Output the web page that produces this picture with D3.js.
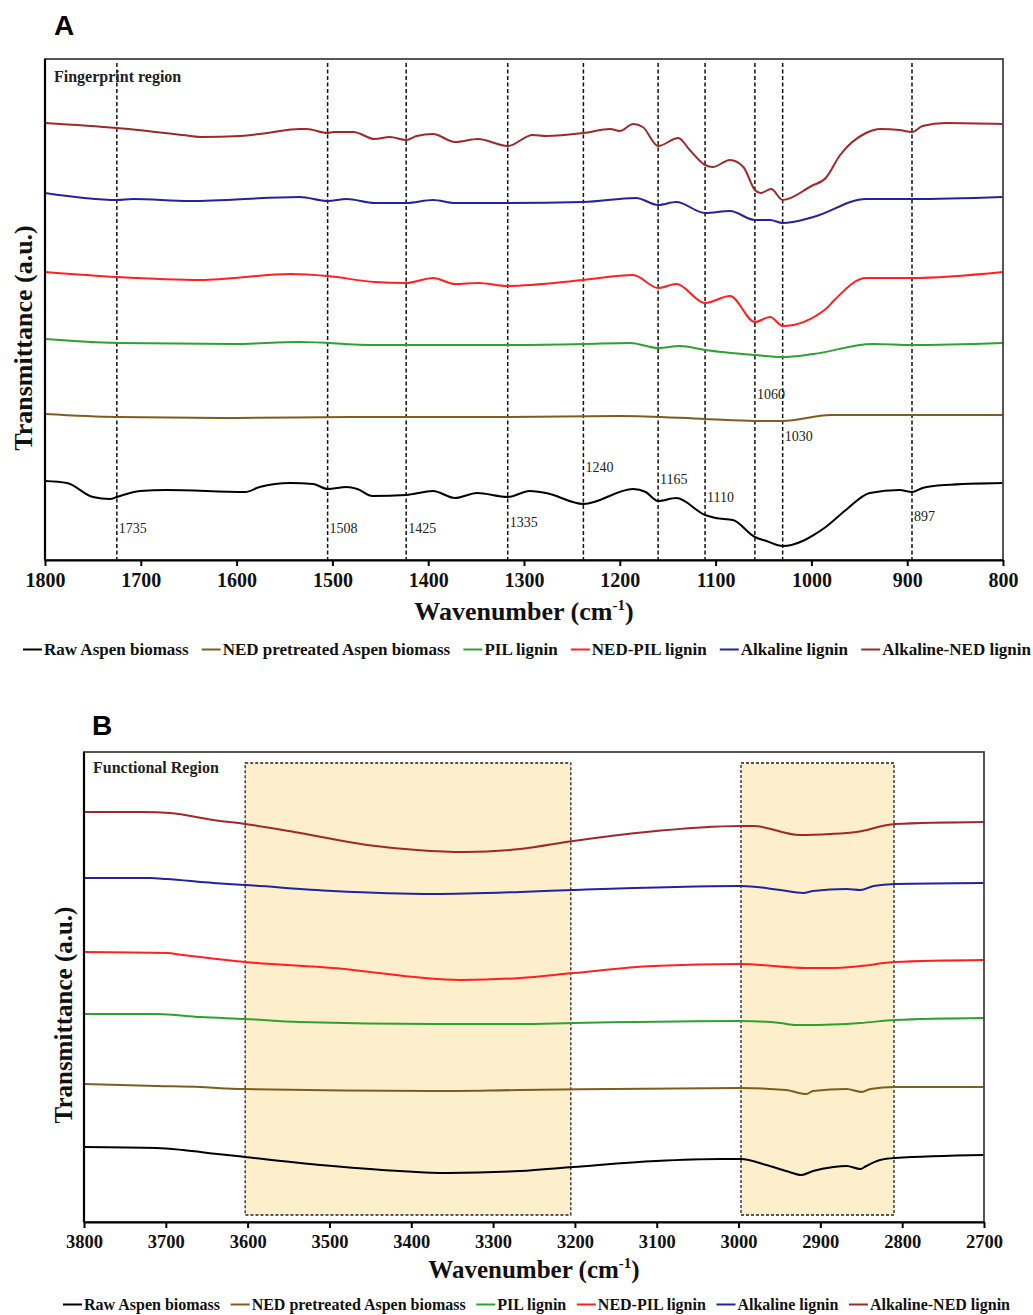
<!DOCTYPE html>
<html>
<head>
<meta charset="utf-8">
<script src="https://cdn.jsdelivr.net/npm/d3@7"></script>
<style>
  body { margin: 0; background: #fff; }
  svg text { font-family: "Liberation Serif", "Times New Roman", serif; }
</style>
</head>
<body>
<div id="chart"></div>
<script>

// legend names and colours
var seriesNames = ['Raw Aspen biomass', 'NED pretreated Aspen biomass', 'PIL lignin',
    'NED-PIL lignin', 'Alkaline lignin', 'Alkaline-NED lignin'];
var seriesColors = ['#000000', '#7d5e1f', '#2fa12f', '#ff2020', '#23239a', '#a0282a'];

// fingerprint region (1800-800 cm-1), [wavenumber, transmittance a.u.]
var fpRaw = [[1800,15.8],[1777,15.4],[1750,12.6],[1732,12.2],[1725,12.6],[1701,13.8],[1673,14.0],[1591,13.6],[1576,14.6],[1544,15.4],[1520,15.2],[1505,14.2],[1485,14.6],[1474,14.2],[1458,12.8],[1423,13.0],[1395,13.8],[1372,12.4],[1349,13.4],[1317,12.6],[1294,13.8],[1277,13.4],[1238,11.2],[1186,14.2],[1173,13.6],[1160,11.8],[1141,12.4],[1111,9.0],[1100,8.4],[1082,8.0],[1059,4.6],[1047,3.8],[1030,2.8],[985,6.6],[964,10.0],[939,13.4],[908,14.0],[895,13.6],[884,14.4],[860,15.0],[800,15.4]];
var fpNed = [[1800,29.2],[1725,28.6],[1600,28.4],[1480,28.6],[1317,28.6],[1200,28.8],[1111,28.2],[1059,27.8],[1030,27.8],[980,29.0],[800,29.0]];
var fpPil = [[1800,44.2],[1725,43.4],[1604,43.2],[1534,43.6],[1456,43.0],[1317,43.0],[1238,43.2],[1189,43.4],[1160,42.4],[1137,42.8],[1111,42.0],[1059,41.0],[1030,40.6],[998,41.2],[936,43.2],[895,43.0],[800,43.4]];
var fpNedPil = [[1800,57.6],[1725,56.6],[1638,56.0],[1544,57.2],[1505,56.8],[1456,55.6],[1423,55.4],[1395,56.4],[1372,55.2],[1348,55.4],[1317,54.8],[1238,56.0],[1186,57.0],[1160,54.4],[1141,55.2],[1111,51.4],[1085,52.8],[1059,47.6],[1043,48.6],[1030,46.8],[985,50.2],[976,52.0],[943,56.4],[895,56.4],[800,57.6]];
var fpAlk = [[1800,73.4],[1725,72.0],[1708,72.2],[1649,71.8],[1534,72.6],[1505,71.8],[1485,72.2],[1456,71.4],[1423,71.4],[1395,72.0],[1372,71.4],[1317,71.4],[1238,71.6],[1183,72.4],[1160,71.0],[1141,71.6],[1111,69.4],[1085,69.8],[1059,68.0],[1043,68.0],[1030,67.4],[998,68.6],[943,72.2],[895,72.2],[800,72.6]];
var fpAlkNed = [[1800,87.4],[1725,86.4],[1656,85.0],[1638,84.6],[1596,84.8],[1568,85.4],[1534,86.2],[1527,86.2],[1505,85.4],[1499,85.6],[1478,85.6],[1456,84.2],[1440,84.6],[1423,84.0],[1412,84.8],[1395,85.2],[1372,83.6],[1348,84.2],[1317,82.8],[1291,85.0],[1277,84.8],[1238,85.4],[1210,86.2],[1200,85.8],[1186,87.2],[1176,86.6],[1160,82.8],[1139,84.4],[1127,82.0],[1111,79.0],[1103,78.6],[1085,80.0],[1071,78.6],[1059,74.0],[1053,73.4],[1042,74.2],[1030,72.0],[1000,74.8],[985,76.4],[970,81.0],[943,85.4],[928,86.2],[908,86.0],[895,85.6],[884,86.8],[860,87.4],[800,87.2]];

// peak markers in fingerprint region
var peakLines = [1725, 1505, 1423, 1317, 1238, 1160, 1111, 1059, 1030, 895];
var peakLabels = ['1735', '1508', '1425', '1335', '1240', '1165', '1110', '1060', '1030', '897'];
var peakLabelLevels = [5.4, 5.4, 5.4, 6.6, 17.6, 15.2, 11.6, 32.2, 23.8, 7.8];

// functional region (3800-2700 cm-1)
var fnRaw = [[3800,15.0],[3711,14.8],[3679,14.4],[3637,13.6],[3603,13.0],[3496,11.2],[3414,10.2],[3356,9.8],[3267,10.2],[3202,11.0],[3101,12.2],[3022,12.6],[2997,12.6],[2966,11.4],[2942,10.2],[2923,9.4],[2909,10.2],[2884,11.0],[2868,11.2],[2851,10.6],[2844,11.2],[2827,12.4],[2809,12.8],[2700,13.4]];
var fnNed = [[3800,27.6],[3711,27.2],[3658,27.0],[3625,26.7],[3603,26.6],[3373,26.2],[3267,26.4],[2997,26.8],[2942,26.4],[2917,25.6],[2909,26.2],[2868,26.6],[2849,26.0],[2839,26.6],[2809,27.0],[2700,27.0]];
var fnPil = [[3800,41.6],[3711,41.6],[3658,41.0],[3603,40.6],[3536,40.0],[3373,39.6],[3267,39.6],[3202,39.8],[2997,40.2],[2949,39.8],[2929,39.4],[2917,39.4],[2851,39.8],[2809,40.4],[2700,40.8]];
var fnNedPil = [[3800,54.0],[3699,53.8],[3679,53.4],[3603,52.0],[3496,50.8],[3340,48.4],[3267,48.8],[3202,49.8],[3104,51.2],[2997,51.6],[2917,50.8],[2888,50.8],[2851,51.2],[2809,52.0],[2700,52.4]];
var fnAlk = [[3800,68.8],[3719,68.8],[3699,68.6],[3642,67.8],[3603,67.4],[3496,66.2],[3373,65.6],[3267,66.0],[3202,66.4],[2997,67.2],[2949,66.4],[2921,65.8],[2909,66.2],[2868,66.6],[2851,66.4],[2835,67.2],[2809,67.6],[2700,67.8]];
var fnAlkNed = [[3800,82.0],[3728,82.0],[3695,81.8],[3642,80.4],[3603,79.6],[3536,77.8],[3454,75.4],[3393,74.4],[3334,74.0],[3267,74.6],[3202,76.2],[3113,78.0],[2997,79.2],[2982,79.2],[2925,77.4],[2888,77.6],[2856,78.0],[2809,79.6],[2700,80.0]];

// shaded bands in functional region
var bandStarts = [3603, 2997];
var bandEnds = [3205, 2810];

// tick labels
var fpTicks = [1800, 1700, 1600, 1500, 1400, 1300, 1200, 1100, 1000, 900, 800];
var fnTicks = [3800, 3700, 3600, 3500, 3400, 3300, 3200, 3100, 3000, 2900, 2800, 2700];

// svg container
var width = 1033;
var height = 1315;

var svg = d3.select('#chart').append('svg')
    .attr('width', width)
    .attr('height', height);

var line = d3.line().curve(d3.curveMonotoneX);

// one panel of spectra
function drawPanel(p) {

    var xScale = d3.scaleLinear().domain(p.xDomain).range([p.left, p.right]);
    var yScale = d3.scaleLinear().domain(p.yDomain).range([p.bottom, p.top]);
    line.x(d => xScale(d[0])).y(d => yScale(d[1]));

    // panel letter
    svg.append('text')
        .attr('x', p.letterX)
        .attr('y', p.letterY)
        .style('font-family', 'Arial, "Liberation Sans", sans-serif')
        .style('font-weight', 'bold')
        .style('font-size', '28px')
        .text(p.letter);

    // shaded bands
    if (p.bands) {
        svg.selectAll(null)
            .data(p.bands)
            .enter()
            .append('rect')
            .attr('x', d => xScale(d[0]))
            .attr('y', yScale(p.bandTop))
            .attr('width', d => xScale(d[1]) - xScale(d[0]))
            .attr('height', yScale(p.bandBottom) - yScale(p.bandTop))
            .attr('fill', '#fdefcb')
            .attr('stroke', '#222')
            .attr('stroke-width', 1.3)
            .attr('stroke-dasharray', '3,2');
    }

    // dashed peak lines
    if (p.peaks) {
        svg.selectAll(null)
            .data(p.peaks)
            .enter()
            .append('line')
            .attr('x1', d => xScale(d))
            .attr('x2', d => xScale(d))
            .attr('y1', yScale(p.peakTop))
            .attr('y2', yScale(0))
            .attr('stroke', '#111')
            .attr('stroke-width', 1.5)
            .attr('stroke-dasharray', '4,2.5');

        svg.selectAll(null)
            .data(p.peaks)
            .enter()
            .append('text')
            .attr('x', d => xScale(d) + 2)
            .attr('y', (d, i) => yScale(peakLabelLevels[i]))
            .style('font-size', '14px')
            .style('fill', '#222')
            .text((d, i) => peakLabels[i]);
    }

    // spectra
    svg.selectAll(null)
        .data(p.series)
        .enter()
        .append('path')
        .attr('d', d => line(d))
        .attr('fill', 'none')
        .attr('stroke', (d, i) => seriesColors[i])
        .attr('stroke-width', 2);

    // frame: thin grey top/right, black left/bottom
    svg.append('rect')
        .attr('x', p.left)
        .attr('y', p.top)
        .attr('width', p.right - p.left)
        .attr('height', p.bottom - p.top)
        .attr('fill', 'none')
        .attr('stroke', '#444')
        .attr('stroke-width', 1.8);

    svg.append('line')
        .attr('x1', p.left).attr('x2', p.left)
        .attr('y1', p.top).attr('y2', p.bottom)
        .attr('stroke', '#000')
        .attr('stroke-width', 2.2);

    var xAxis = d3.axisBottom(xScale)
        .tickValues(p.ticks)
        .tickFormat(d3.format('d'))
        .tickSize(6)
        .tickSizeOuter(0)
        .tickPadding(p.tickPad);

    var ax = svg.append('g')
        .attr('transform', `translate(0, ${p.bottom})`)
        .call(xAxis);
    ax.select('.domain').attr('stroke', '#000').attr('stroke-width', 2.2);
    ax.selectAll('.tick line').attr('stroke', '#000').attr('stroke-width', 2);
    ax.selectAll('.tick text')
        .style('font-family', '"Liberation Serif", serif')
        .style('font-weight', 'bold')
        .style('font-size', p.tickFont)
        .attr('fill', '#111');

    // region label
    svg.append('text')
        .attr('x', p.left + 9)
        .attr('y', p.regionY)
        .style('font-weight', 'bold')
        .style('font-size', '16px')
        .attr('fill', '#222')
        .text(p.region);

    // axis titles
    var xt = svg.append('text')
        .attr('x', (p.left + p.right) / 2)
        .attr('y', p.xTitleY)
        .attr('text-anchor', 'middle')
        .style('font-weight', 'bold')
        .style('font-size', p.titleFont)
        .attr('fill', '#111');
    xt.append('tspan').text('Wavenumber (cm');
    xt.append('tspan').attr('dy', -10).style('font-size', '15px').text('-1');
    xt.append('tspan').attr('dy', 10).text(')');

    svg.append('text')
        .attr('transform', `translate(${p.yTitleX}, ${p.yTitleY}) rotate(-90)`)
        .attr('text-anchor', 'middle')
        .style('font-weight', 'bold')
        .style('font-size', p.titleFont)
        .attr('fill', '#111')
        .text('Transmittance (a.u.)');

    // legend, spread across the page width
    var lg = svg.append('g');
    var items = lg.selectAll('g')
        .data(seriesNames)
        .enter()
        .append('g');
    items.append('line')
        .attr('x1', 0).attr('x2', 19)
        .attr('y1', -5.5).attr('y2', -5.5)
        .attr('stroke', (d, i) => seriesColors[i])
        .attr('stroke-width', 2);
    items.append('text')
        .attr('x', 21)
        .style('font-weight', 'bold')
        .style('font-size', p.legendFont)
        .attr('fill', '#111')
        .text(d => d);

    var widths = [];
    items.each(function () { widths.push(21 + d3.select(this).select('text').node().getComputedTextLength()); });
    var gap = (p.legendEnd - p.legendStart - d3.sum(widths)) / (widths.length - 1);
    var pos = p.legendStart;
    items.attr('transform', function (d, i) {
        var t = `translate(${pos}, ${p.legendY})`;
        pos += widths[i] + gap;
        return t;
    });
}

drawPanel({
    letter: 'A', letterX: 54, letterY: 35,
    left: 45, right: 1003, top: 59, bottom: 560,
    xDomain: [1800, 800], yDomain: [0, 100.2],
    series: [fpRaw, fpNed, fpPil, fpNedPil, fpAlk, fpAlkNed],
    peaks: peakLines, peakTop: 99.4,
    ticks: fpTicks, tickFont: '20px', tickPad: 7,
    region: 'Fingerprint region', regionY: 82,
    xTitleY: 620, titleFont: '26px',
    yTitleX: 32, yTitleY: 338,
    legendStart: 23, legendEnd: 1031, legendY: 655, legendFont: '17px'
});

drawPanel({
    letter: 'B', letterX: 92, letterY: 735,
    left: 84, right: 984, top: 752, bottom: 1222,
    xDomain: [3800, 2700], yDomain: [0, 94],
    series: [fnRaw, fnNed, fnPil, fnNedPil, fnAlk, fnAlkNed],
    bands: d3.zip(bandStarts, bandEnds), bandTop: 91.8, bandBottom: 1.4,
    ticks: fnTicks, tickFont: '18.5px', tickPad: 7,
    region: 'Functional Region', regionY: 773,
    xTitleY: 1278, titleFont: '25px',
    yTitleX: 72, yTitleY: 1015,
    legendStart: 63, legendEnd: 1010, legendY: 1310, legendFont: '16px'
});

</script>
</body>
</html>
